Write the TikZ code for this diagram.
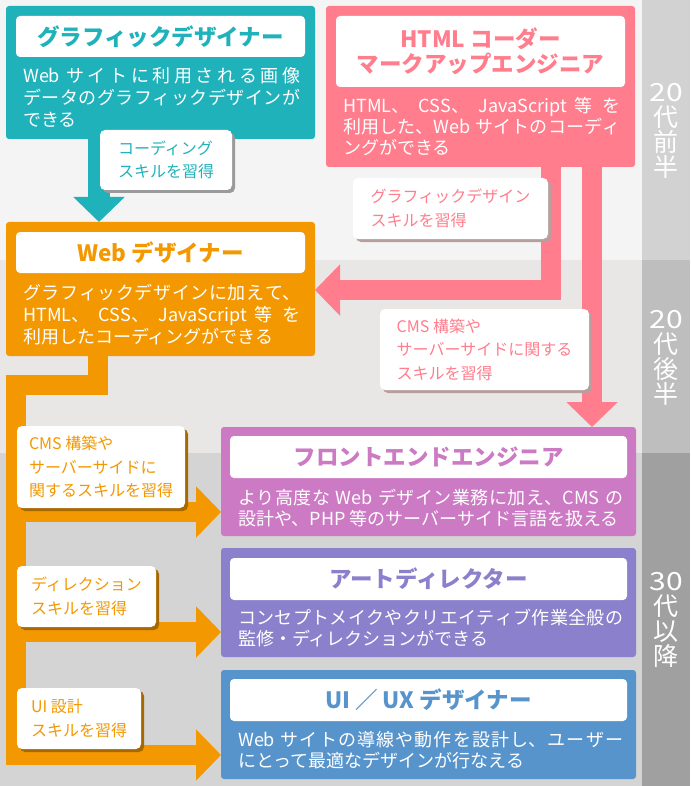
\documentclass[tikz,border=0pt]{standalone}
\usepackage{fontspec}
\newfontfamily\jp{Noto Sans CJK JP}
\XeTeXlinebreaklocale "ja"
\XeTeXlinebreakskip=0pt plus 4pt
\newcommand{\jfull}[2]{\parbox[b]{#1}{\parindent=0pt\parfillskip=0pt\spaceskip=0.3em plus 1pt\relax #2}}
\usetikzlibrary{arrows.meta,shadows}
\definecolor{tealc}{HTML}{20B2BA}
\definecolor{pinkc}{HTML}{FF7D8C}
\definecolor{orangec}{HTML}{F39800}
\definecolor{fec}{HTML}{CC7AC4}
\definecolor{adc}{HTML}{8A80CC}
\definecolor{uic}{HTML}{5894CC}
\definecolor{bgA}{HTML}{F4F4F4}
\definecolor{bgB}{HTML}{E8E7E6}
\definecolor{bgC}{HTML}{D4D4D4}
\definecolor{colA}{HTML}{D2D2D2}
\definecolor{colB}{HTML}{BEBEBE}
\definecolor{colC}{HTML}{A0A0A0}
\definecolor{shTeal}{HTML}{9A9A9A}
\definecolor{shPink}{HTML}{B5A09D}
\definecolor{shOrange}{HTML}{A86800}
\begin{document}
\begin{tikzpicture}[x=1pt,y=-1pt,
  bigbox/.style={rounded corners=3pt, inner sep=0pt, outer sep=0pt, anchor=north west},
  titlebox/.style={fill=white, rounded corners=4pt, inner sep=0pt, outer sep=0pt, anchor=north west, align=center, font=\jp\bfseries\fontsize{22.5}{25}\selectfont},
  bodytext/.style={text=white, anchor=base west, inner sep=0pt, align=left, font=\jp\fontsize{18}{22}\selectfont},
  skill/.style={fill=white, rounded corners=5pt, inner sep=0pt, outer sep=0pt, anchor=north west, align=left, font=\jp\fontsize{16}{23.5}\selectfont},
  conn/.style={line width=20pt, -{Triangle[width=50pt,length=25pt]}},
  age/.style={text=white, align=center, inner sep=0pt, font=\jp\fontsize{25}{25}\selectfont}]
\useasboundingbox (0,0) rectangle (690,786);
% background bands
\fill[bgA] (0,0) rectangle (690,260);
\fill[bgB] (0,260) rectangle (690,453);
\fill[bgC] (0,453) rectangle (690,786);
\fill[colA] (642,0) rectangle (690,260);
\fill[colB] (642,260) rectangle (690,453);
\fill[colC] (642,453) rectangle (690,786);
% age labels
\node[age] (ageA) at (666,131) {\scalebox{1.2}[1]{20}\\代\\前\\半};
\node[age] (ageB) at (666,358) {\scalebox{1.2}[1]{20}\\代\\後\\半};
\node[age] (ageC) at (666,620) {\scalebox{1.2}[1]{30}\\代\\以\\降};
% main boxes
\node[bigbox, fill=tealc, minimum width=309pt, minimum height=133pt] (graphic) at (6,6) {};
\node[bigbox, fill=pinkc, minimum width=309pt, minimum height=161pt] (html) at (326,6) {};
\node[bigbox, fill=orangec, minimum width=309pt, minimum height=134pt] (web) at (6,222) {};
\node[bigbox, fill=fec, minimum width=415pt, minimum height=109pt] (fe) at (221,427) {};
\node[bigbox, fill=adc, minimum width=415pt, minimum height=109pt] (ad) at (221,548) {};
\node[bigbox, fill=uic, minimum width=415pt, minimum height=109pt] (ui) at (221,670) {};
% connectors
\draw[conn, tealc, line width=22pt] (99,0 |- graphic.south) -- (99,0 |- web.north);
\draw[conn, pinkc] (551,0 |- html.south) -- (551,290) -- (web.east |- 0,290);
\draw[conn, pinkc] (592,0 |- html.south) -- (592,0 |- fe.north);
\draw[conn, orangec] (98,0 |- web.south) -- (98,385) -- (16,385) -- (16,755) -- (ui.west |- 0,755);
\draw[conn, orangec] (16,512) -- (fe.west |- 0,512);
\draw[conn, orangec] (16,632) -- (ad.west |- 0,632);
% titles
\node[titlebox, minimum width=289pt, minimum height=41pt, text=tealc] (graphicT) at (16,16) {グラフィックデザイナー};
\node[titlebox, minimum width=289pt, minimum height=71pt, text=pinkc] (htmlT) at (336,16) {HTML コーダー\\マークアップエンジニア};
\node[titlebox, minimum width=289pt, minimum height=41pt, text=orangec] (webT) at (16,232) {Web デザイナー};
\node[titlebox, minimum width=397pt, minimum height=42pt, text=fec] (feT) at (230,436) {フロントエンドエンジニア};
\node[titlebox, minimum width=397pt, minimum height=42pt, text=adc] (adT) at (230,558) {アートディレクター};
\node[titlebox, minimum width=397pt, minimum height=42pt, text=uic] (uiT) at (230,679) {UI ／ UX デザイナー};
% body texts (anchored at the baseline of the last line)
\node[bodytext] (graphicB) at (23,127) {\jfull{277pt}{Web サイトに利用される画像}\\\jfull{277pt}{データのグラフィックデザインが}\\できる};
\node[bodytext, font=\jp\fontsize{18}{21}\selectfont] (htmlB) at (343,155) {\jfull{277pt}{HTML、CSS、JavaScript 等を}\\\jfull{277pt}{利用した、Web サイトのコーディ}\\ングができる};
\node[bodytext] (webB) at (23,343) {\jfull{277pt}{グラフィックデザインに加えて、}\\\jfull{277pt}{HTML、CSS、JavaScript 等を}\\利用したコーディングができる};
\node[bodytext, font=\jp\fontsize{18}{21}\selectfont] (feB) at (238,525) {\jfull{385pt}{より高度な Web デザイン業務に加え、CMS の}\\設計や、PHP 等のサーバーサイド言語を扱える};
\node[bodytext, font=\jp\fontsize{18}{21}\selectfont] (adB) at (238,645) {\jfull{385pt}{コンセプトメイクやクリエイティブ作業全般の}\\監修・ディレクションができる};
\node[bodytext, font=\jp\fontsize{18}{21}\selectfont] (uiB) at (238,767) {\jfull{385pt}{Web サイトの導線や動作を設計し、ユーザー}\\にとって最適なデザインが行なえる};
% skill labels
\node[skill, text=tealc, minimum width=132pt, minimum height=60pt, general shadow={fill=shTeal, shadow xshift=3pt, shadow yshift=-3pt}] (sk1) at (100,130) {コーディング\\スキルを習得};
\node[skill, text=pinkc, minimum width=195pt, minimum height=61pt, general shadow={fill=shPink, shadow xshift=3pt, shadow yshift=-3pt}] (sk2) at (353,178) {グラフィックデザイン\\スキルを習得};
\node[skill, text=pinkc, minimum width=209pt, minimum height=81pt, general shadow={fill=shPink, shadow xshift=3pt, shadow yshift=-3pt}] (sk3) at (380,309) {CMS 構築や\\サーバーサイドに関する\\スキルを習得};
\node[skill, text=orangec, minimum width=168pt, minimum height=82pt, general shadow={fill=shOrange, shadow xshift=3pt, shadow yshift=-3pt}] (sk4) at (17,426) {CMS 構築や\\サーバーサイドに\\関するスキルを習得};
\node[skill, text=orangec, minimum width=139pt, minimum height=61pt, general shadow={fill=shOrange, shadow xshift=3pt, shadow yshift=-3pt}] (sk5) at (17,566) {ディレクション\\スキルを習得};
\node[skill, text=orangec, minimum width=124pt, minimum height=61pt, general shadow={fill=shOrange, shadow xshift=3pt, shadow yshift=-3pt}] (sk6) at (17,688) {UI 設計\\スキルを習得};
\end{tikzpicture}
\end{document}
